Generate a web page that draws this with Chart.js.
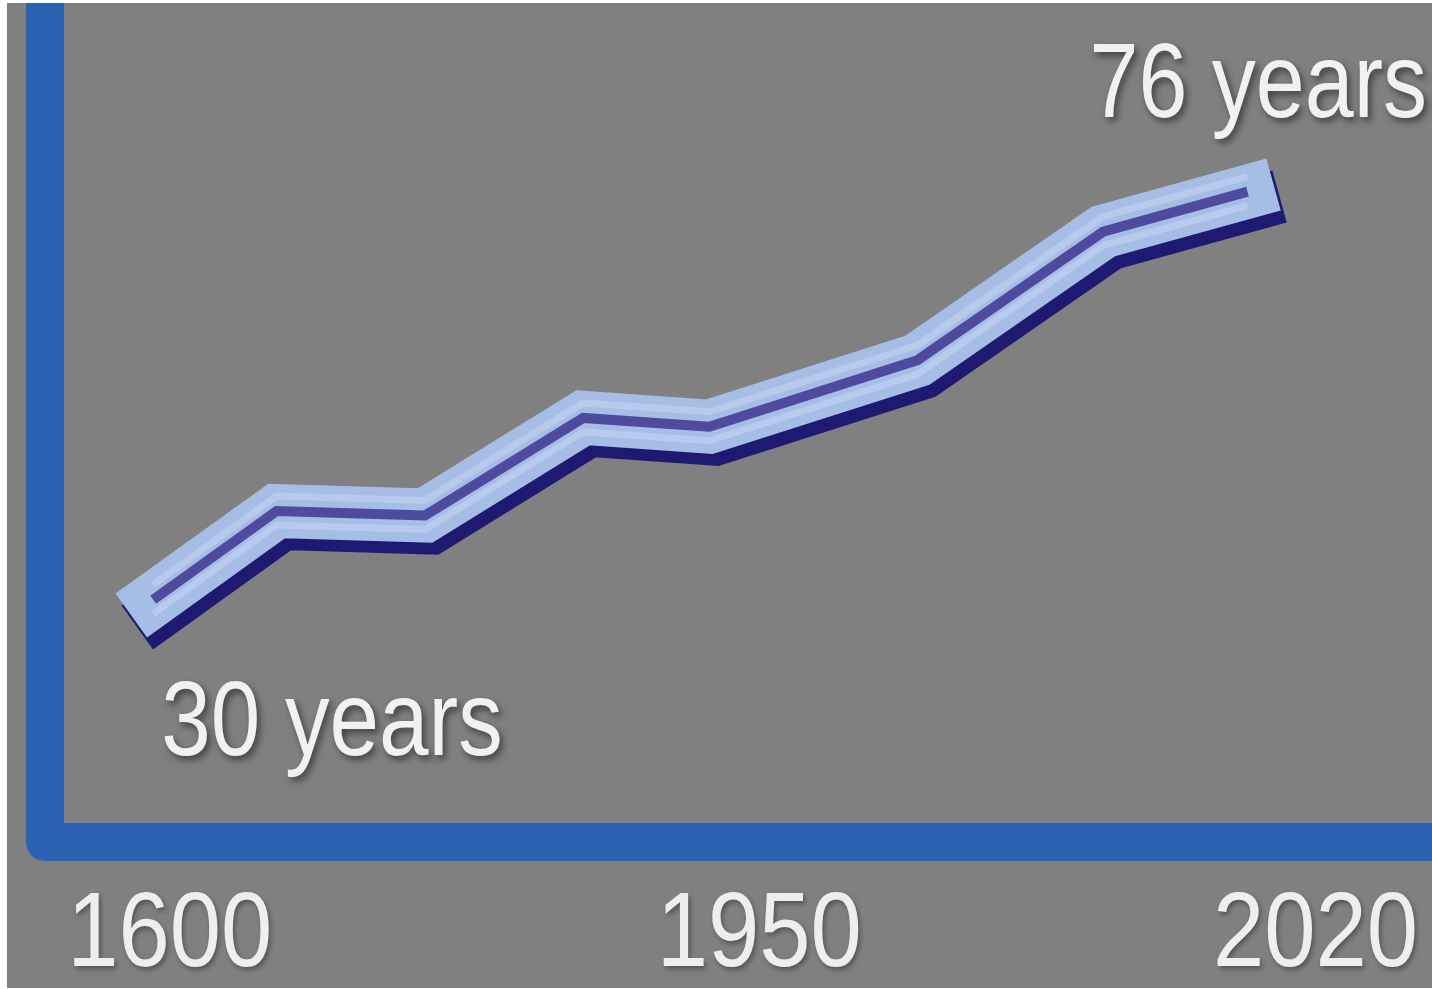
<!DOCTYPE html>
<html>
<head>
<meta charset="utf-8">
<title>Life expectancy</title>
<script src="https://cdn.jsdelivr.net/npm/chart.js@4.4.1/dist/chart.umd.min.js"></script>
<style>
  html, body { margin: 0; padding: 0; background: #ffffff; overflow: hidden; }
  #wrap { width: 1432px; height: 989px; }
</style>
</head>
<body>
<div id="wrap"><canvas id="chart" width="1432" height="989"></canvas></div>
<script>
// Position of each reading along the (schematic) timeline, 0..100
const timeline = [7.8, 16.7, 27.4, 38.8, 47.9, 62.9, 76.3, 86.7];
// Life expectancy in years at each reading
const lifeExpectancy = [30, 40, 39.5, 50.5, 49.5, 57, 71.5, 76];
// Year labels under the axis and where they sit on the timeline
const yearLabels = ['1600', '1950', '2020'];
const yearLabelAt = [9.0, 51.5, 91.6];

const FONT = "'Liberation Sans', Arial, sans-serif";
const points = timeline.map((x, i) => ({ x, y: lifeExpectancy[i] }));

// The ribbon is the same series stroked several times, bottom layer last
function layer(color, width, shift, cap) {
  return {
    data: points,
    borderColor: color,
    borderWidth: width,
    borderCapStyle: cap,
    borderJoinStyle: 'miter',
    tension: 0,
    pointRadius: 0,
    fill: false,
    clip: false,
    ribbonShift: shift
  };
}

const datasets = [
  layer('#4e4a9e', 10, [0, 0], 'butt'),       // dark groove down the middle
  layer('#b8caec', 7, [0, -15], 'butt'),      // upper sheen
  layer('#b8caed', 7, [0, 14], 'butt'),       // lower sheen
  layer('#a6bde6', 54, [0, 0], 'square'),     // light body
  layer('#1e1a72', 54, [6, 12], 'square')     // dark underside
];

// Condensed text: the face is squeezed horizontally around its anchor
function narrowText(ctx, text, x, y, align, squeeze) {
  ctx.save();
  ctx.translate(x, y);
  ctx.scale(squeeze, 1);
  ctx.textAlign = align;
  ctx.textBaseline = 'alphabetic';
  ctx.fillText(text, 0, 0);
  ctx.restore();
}

const frame = {
  id: 'frame',
  beforeDraw(chart) {
    const { ctx, chartArea: a, width, height } = chart;
    ctx.save();
    ctx.fillStyle = '#ffffff';
    ctx.fillRect(0, 0, width, height);
    ctx.fillStyle = '#808080';
    ctx.fillRect(7, 3, width - 7, height - 4);
    // blue L-shaped axis
    ctx.strokeStyle = '#2b62b3';
    ctx.lineWidth = 38;
    ctx.lineJoin = 'round';
    ctx.lineCap = 'butt';
    ctx.beginPath();
    ctx.moveTo(a.left, 3);
    ctx.lineTo(a.left, a.bottom);
    ctx.lineTo(width + 30, a.bottom);
    ctx.stroke();
    ctx.restore();
  }
};

const ribbon = {
  id: 'ribbon',
  beforeDatasetDraw(chart, args) {
    const s = chart.data.datasets[args.index].ribbonShift || [0, 0];
    chart.ctx.save();
    chart.ctx.translate(s[0], s[1]);
  },
  afterDatasetDraw(chart) {
    chart.ctx.restore();
  }
};

const textLabels = {
  id: 'textLabels',
  afterDatasetsDraw(chart) {
    const { ctx } = chart;
    const xs = chart.scales.x;
    const pts = chart.getDatasetMeta(3).data;
    const first = pts[0], last = pts[pts.length - 1];

    // year labels under the axis
    ctx.save();
    ctx.font = `106px ${FONT}`;
    ctx.fillStyle = '#eeeeee';
    ctx.shadowColor = 'rgba(0,0,0,0.35)';
    ctx.shadowBlur = 5;
    ctx.shadowOffsetX = 2;
    ctx.shadowOffsetY = 3;
    xs.ticks.forEach((t, i) => {
      narrowText(ctx, yearLabels[i], xs.getPixelForValue(t.value), chart.chartArea.bottom + 124, 'center', 0.87);
    });
    ctx.restore();

    // start and end values
    ctx.save();
    ctx.font = `106px ${FONT}`;
    ctx.fillStyle = '#f1f1f1';
    ctx.shadowColor = 'rgba(0,0,0,0.5)';
    ctx.shadowBlur = 7;
    ctx.shadowOffsetX = 3;
    ctx.shadowOffsetY = 4;
    narrowText(ctx, `${lifeExpectancy[0]} years`, first.x + 8, first.y + 155, 'left', 0.84);
    narrowText(ctx, `${lifeExpectancy[lifeExpectancy.length - 1]} years`, last.x - 158, last.y - 75, 'left', 0.83);
    ctx.restore();
  }
};

new Chart(document.getElementById('chart'), {
  type: 'line',
  data: { datasets },
  options: {
    responsive: false,
    devicePixelRatio: 1,
    animation: false,
    events: [],
    layout: { padding: { left: 45, top: 0, right: 0, bottom: 0 } },
    plugins: { legend: { display: false }, tooltip: { enabled: false } },
    scales: {
      x: {
        type: 'linear',
        position: 'bottom',
        min: 0,
        max: 100,
        grid: { display: false, drawTicks: false },
        border: { display: false },
        afterBuildTicks: s => { s.ticks = yearLabelAt.map(v => ({ value: v })); },
        afterFit: s => { s.height = 147; },
        ticks: { display: false, autoSkip: false, maxRotation: 0 }
      },
      y: {
        type: 'linear',
        display: false,
        min: 2.7,
        max: 97.6
      }
    }
  },
  plugins: [frame, ribbon, textLabels]
});
</script>
</body>
</html>
